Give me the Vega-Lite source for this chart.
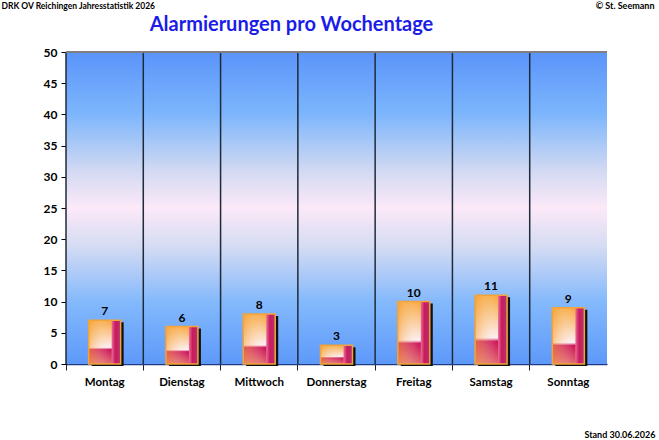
{
  "$schema": "https://vega.github.io/schema/vega-lite/v6.json",
  "description": "Alarmierungen pro Wochentage",
  "autosize": "none",
  "width": 541,
  "height": 312,
  "padding": {"left": 66, "top": 52, "right": 52, "bottom": 76},
  "background": "white",
  "config": {
    "font": "Lato",
    "view": {"stroke": null},
    "axis": {"labelFont": "Lato", "titleFont": "Lato", "grid": false}
  },
  "title": {
    "text": "Alarmierungen pro Wochentage",
    "font": "Lato",
    "fontSize": 20,
    "fontWeight": "bold",
    "color": "#1c1ce8",
    "anchor": "middle",
    "frame": "group",
    "dx": -45,
    "dy": 34,
    "offset": 0
  },
  "data": {
    "values": [
      {"tag": "Montag", "n": 7},
      {"tag": "Dienstag", "n": 6},
      {"tag": "Mittwoch", "n": 8},
      {"tag": "Donnerstag", "n": 3},
      {"tag": "Freitag", "n": 10},
      {"tag": "Samstag", "n": 11},
      {"tag": "Sonntag", "n": 9}
    ]
  },
  "resolve": {"axis": {"y": "independent"}},
  "layer": [
    {
      "encoding": {
        "x": {
          "field": "tag",
          "type": "nominal",
          "sort": null,
          "scale": {"paddingInner": 0, "paddingOuter": 0},
          "axis": {
            "labelAngle": 0,
            "labelFontSize": 11.5,
            "labelFontWeight": "bold",
            "labelColor": "black",
            "labelPadding": 6,
            "bandPosition": 0,
            "tickSize": 6,
            "tickColor": "#222",
            "domainColor": "#1e3a80",
            "domainWidth": 1.5,
            "title": "Stand 30.06.2026",
            "titleFontSize": 9,
            "titleFontWeight": "bold",
            "titleAlign": "right",
            "titleBaseline": "bottom",
            "titleX": 589,
            "titleY": 75
          }
        },
        "y": {
          "field": "n",
          "type": "quantitative",
          "scale": {"domain": [0, 50], "nice": false},
          "axis": {
            "values": [0, 5, 10, 15, 20, 25, 30, 35, 40, 45, 50],
            "labelFontSize": 12,
            "labelFontWeight": "bold",
            "labelColor": "black",
            "labelPadding": 4,
            "tickSize": 5,
            "tickColor": "black",
            "domainColor": "black",
            "title": "DRK OV Reichingen Jahresstatistik 2026",
            "titleFontSize": 8.5,
            "titleFontWeight": "bold",
            "titleAngle": 0,
            "titleAlign": "left",
            "titleBaseline": "middle",
            "titleX": -65,
            "titleY": -47
          }
        }
      },
      "layer": [
        {
          "mark": {
            "type": "bar",
            "width": {"band": 1},
            "color": {
              "gradient": "linear",
              "x1": 0, "y1": 0, "x2": 0, "y2": 1,
              "stops": [
                {"offset": 0, "color": "#5a94fa"},
                {"offset": 0.2, "color": "#7db6fc"},
                {"offset": 0.38, "color": "#d2d9f2"},
                {"offset": 0.5, "color": "#fce9f8"},
                {"offset": 0.62, "color": "#d6dcf3"},
                {"offset": 0.8, "color": "#84b9fc"},
                {"offset": 1, "color": "#5d99fa"}
              ]
            }
          },
          "encoding": {
            "y": {"datum": 50},
            "y2": {"datum": 0}
          }
        },
        {
          "mark": {"type": "rule", "color": "#1f2a3a", "strokeWidth": 1.5},
          "encoding": {
            "x": {"field": "tag", "type": "nominal", "sort": null, "bandPosition": 0},
            "y": {"datum": 50},
            "y2": {"datum": 0}
          }
        },
        {
          "mark": {"type": "bar", "size": 32, "xOffset": 3, "yOffset": 2, "color": "#111111"}
        },
        {
          "mark": {
            "type": "bar",
            "size": 32,
            "color": {
              "gradient": "linear",
              "x1": 0, "y1": 0, "x2": 0, "y2": 1,
              "stops": [
                {"offset": 0, "color": "#f6a63a"},
                {"offset": 0.62, "color": "#fdeef3"},
                {"offset": 0.67, "color": "#cc1257"},
                {"offset": 1, "color": "#e06a6c"}
              ]
            }
          }
        },
        {
          "mark": {
            "type": "bar",
            "size": 32,
            "color": {
              "gradient": "linear",
              "x1": 0, "y1": 0, "x2": 1, "y2": 0,
              "stops": [
                {"offset": 0, "color": "rgba(245,160,50,0.55)"},
                {"offset": 0.7, "color": "rgba(255,255,255,0)"}
              ]
            }
          }
        },
        {
          "mark": {
            "type": "bar",
            "size": 9,
            "xOffset": 11.5,
            "color": {
              "gradient": "linear",
              "x1": 0, "y1": 0, "x2": 1, "y2": 0,
              "stops": [
                {"offset": 0, "color": "#e8709a"},
                {"offset": 0.4, "color": "#cc1a5c"},
                {"offset": 1, "color": "#b03472"}
              ]
            }
          }
        },
        {
          "mark": {
            "type": "bar",
            "size": 32,
            "fillOpacity": 0,
            "stroke": "#f2a33a",
            "strokeWidth": 1.5
          }
        },
        {
          "mark": {
            "type": "text",
            "dy": -9,
            "fontSize": 12,
            "fontWeight": "bold",
            "color": "black",
            "font": "Lato"
          },
          "encoding": {"text": {"field": "n", "type": "quantitative"}}
        }
      ]
    },
    {
      "mark": {"type": "rule", "color": "#808080", "strokeWidth": 2},
      "encoding": {
        "y": {
          "datum": 50,
          "scale": {"domain": [0, 50], "nice": false},
          "axis": {
            "orient": "right",
            "domain": false,
            "ticks": false,
            "labels": false,
            "title": "© St. Seemann",
            "titleFontSize": 9,
            "titleFontWeight": "bold",
            "titleColor": "black",
            "titleAngle": 0,
            "titleAlign": "right",
            "titleBaseline": "middle",
            "titleX": 47,
            "titleY": -47
          }
        }
      }
    }
  ]
}
